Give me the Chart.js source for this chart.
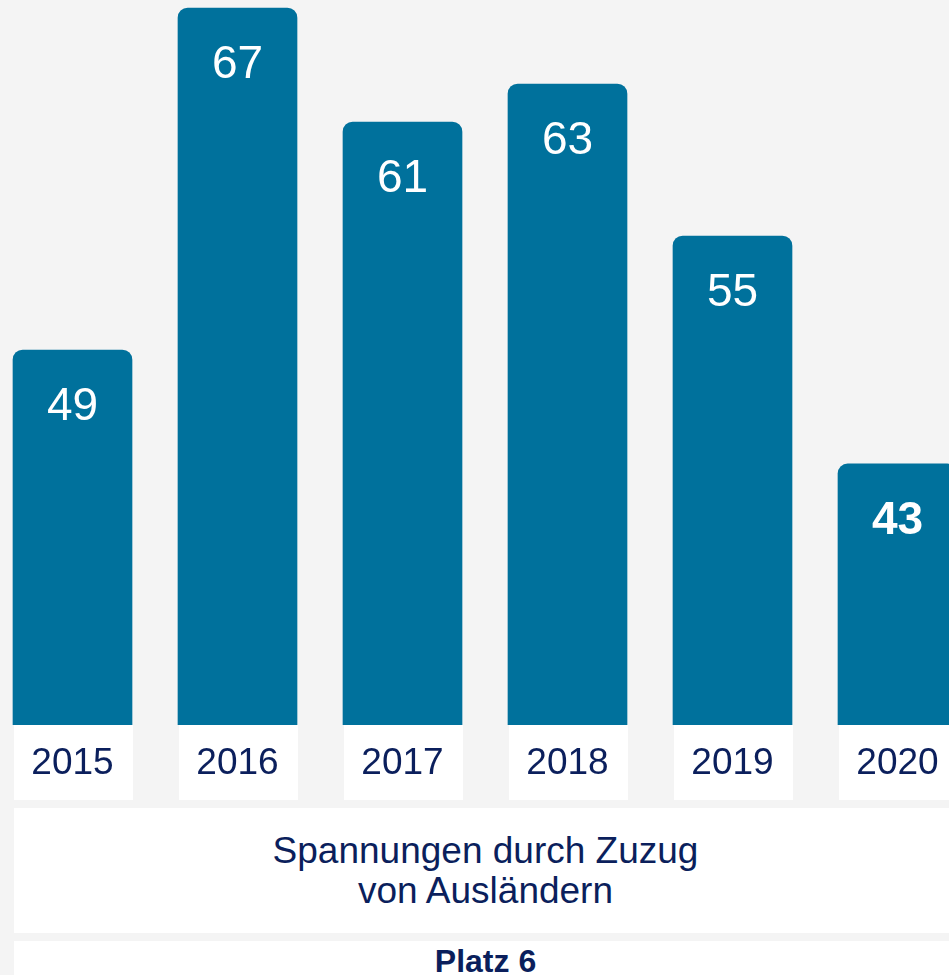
<!DOCTYPE html>
<html>
<head>
<meta charset="utf-8">
<script src="https://cdn.jsdelivr.net/npm/chart.js@4.4.0/dist/chart.umd.min.js"></script>
<style>
  html, body { margin:0; padding:0; width:949px; height:975px; overflow:hidden; background:#f4f4f4; font-family:"Liberation Sans", Arial, sans-serif; }
  #wrap { position:absolute; left:-10px; top:0; width:990px; height:800px; }
  #title { position:absolute; left:14px; top:808px; width:943px; height:125px; background:#fff; color:#0b1f5c;
           font-size:37px; line-height:40px; text-align:center; display:flex; align-items:center; justify-content:center; }
  #rank { position:absolute; left:14px; top:941px; width:943px; height:60px; background:#fff; color:#0b1f5c;
          font-size:32px; font-weight:bold; line-height:40px; text-align:center; }
</style>
</head>
<body>
<div id="wrap"><canvas id="c" width="990" height="800"></canvas></div>
<div id="title"><div>Spannungen durch Zuzug<br>von Ausländern</div></div>
<div id="rank">Platz 6</div>
<script>
const years = ["2015", "2016", "2017", "2018", "2019", "2020"];
const values = [49, 67, 61, 63, 55, 43];
const boldIndex = [false, false, false, false, false, true];

const barColor = "#00719c";
const navy = "#0b1f5c";

const boxesAndLabels = {
  id: "boxesAndLabels",
  beforeDraw(chart) {
    const ctx = chart.ctx;
    const meta = chart.getDatasetMeta(0);
    const bottom = chart.chartArea.bottom;
    ctx.save();
    ctx.fillStyle = "#ffffff";
    meta.data.forEach(bar => {
      const w = bar.width;
      ctx.fillRect(bar.x - w / 2 + 1, bottom, w, 800 - bottom);
    });
    ctx.restore();
  },
  afterDatasetsDraw(chart) {
    const ctx = chart.ctx;
    const meta = chart.getDatasetMeta(0);
    ctx.save();
    ctx.fillStyle = "#ffffff";
    ctx.textAlign = "center";
    ctx.textBaseline = "middle";
    meta.data.forEach((bar, i) => {
      ctx.font = (boldIndex[i] ? "bold " : "") + "46px 'Liberation Sans', Arial, sans-serif";
      ctx.fillText(String(values[i]), bar.x, bar.y + 57);
    });
    ctx.restore();
  }
};

new Chart(document.getElementById("c"), {
  type: "bar",
  data: {
    labels: years,
    datasets: [{
      data: values,
      backgroundColor: barColor,
      barThickness: 119,
      borderRadius: { topLeft: 10, topRight: 10, bottomLeft: 0, bottomRight: 0 },
      borderSkipped: "bottom"
    }]
  },
  options: {
    responsive: false,
    animation: false,
    devicePixelRatio: 1,
    layout: { padding: 0 },
    plugins: { legend: { display: false }, tooltip: { enabled: false } },
    scales: {
      x: {
        grid: { display: false, drawTicks: false },
        border: { display: false },
        ticks: {
          color: navy,
          font: { family: "'Liberation Sans', Arial, sans-serif", size: 37 },
          padding: 17,
          maxRotation: 0,
          autoSkip: false
        },
        afterFit: s => { s.height = 75; }
      },
      y: {
        display: false,
        min: 29.26,
        max: 67.42
      }
    }
  },
  plugins: [boxesAndLabels]
});
</script>
</body>
</html>
